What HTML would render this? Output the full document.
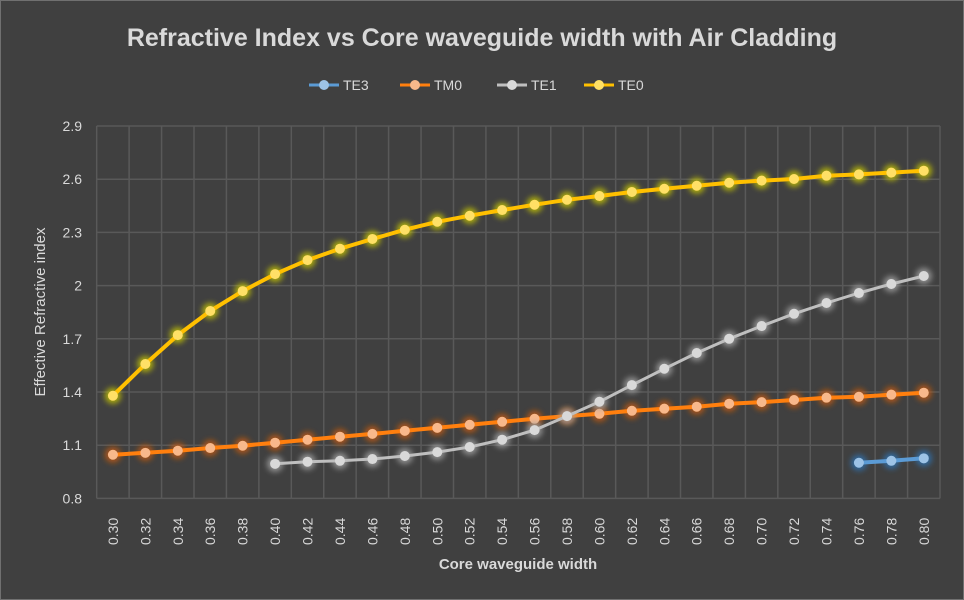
<!DOCTYPE html>
<html><head><meta charset="utf-8"><style>
html,body{margin:0;padding:0;background:#404040;}
svg{display:block;font-family:"Liberation Sans",Calibri,sans-serif;}
</style></head><body>
<svg id="chart" width="964" height="600">
<defs>
<filter id="glow" x="-50%" y="-50%" width="200%" height="200%"><feGaussianBlur stdDeviation="3"/></filter>
</defs>
<rect x="0.5" y="0.5" width="963" height="599" fill="#404040" stroke="#707070"/>
<text x="482" y="46" text-anchor="middle" font-size="25" font-weight="bold" fill="#d9d9d9">Refractive Index vs Core waveguide width with Air Cladding</text>
<g id="legend"></g>
<g id="grid"></g>
<g id="yticks"></g>
<g id="xticks"></g>
<g id="series"></g>
<text x="518" y="569" text-anchor="middle" font-size="15" font-weight="bold" fill="#d9d9d9">Core waveguide width</text>
<text transform="translate(45,312) rotate(-90)" text-anchor="middle" font-size="15" fill="#d9d9d9">Effective Refractive index</text>
</svg>
<script>
const categories=["0.30","0.32","0.34","0.36","0.38","0.40","0.42","0.44","0.46","0.48","0.50","0.52","0.54","0.56","0.58","0.60","0.62","0.64","0.66","0.68","0.70","0.72","0.74","0.76","0.78","0.80"];
const yTicks=[0.8,1.1,1.4,1.7,2,2.3,2.6,2.9];
const yTickLabels=["0.8","1.1","1.4","1.7","2","2.3","2.6","2.9"];
const te0=[1.379,1.558,1.721,1.857,1.969,2.065,2.144,2.208,2.263,2.315,2.36,2.394,2.426,2.456,2.484,2.505,2.528,2.546,2.563,2.58,2.592,2.601,2.62,2.627,2.637,2.648];
const tm0=[1.046,1.057,1.069,1.084,1.097,1.114,1.131,1.148,1.164,1.181,1.198,1.215,1.232,1.249,1.264,1.277,1.294,1.306,1.317,1.334,1.343,1.355,1.368,1.373,1.385,1.396];
const te1=[null,null,null,null,null,0.995,1.007,1.012,1.022,1.039,1.061,1.09,1.131,1.185,1.264,1.345,1.439,1.531,1.62,1.7,1.772,1.841,1.902,1.958,2.009,2.054];
const te3=[null,null,null,null,null,null,null,null,null,null,null,null,null,null,null,null,null,null,null,null,null,null,null,1.001,1.012,1.026];
const seriesNames=["TE3","TM0","TE1","TE0"];
const ns="http://www.w3.org/2000/svg";
const X0=96.7,X1=940,Y0=498.4,Y1=126,YMIN=0.8,YMAX=2.9;
const bw=(X1-X0)/categories.length;
function xs(i){return X0+bw*(i+0.5);}
function ys(v){return Y0-(v-YMIN)/(YMAX-YMIN)*(Y0-Y1);}
function mk(tag,attrs,parent){const e=document.createElementNS(ns,tag);for(const k in attrs)e.setAttribute(k,attrs[k]);parent.appendChild(e);return e;}
const grid=document.getElementById('grid');
yTicks.forEach((t,i)=>{const l=mk('line',{x1:X0,x2:X1,y1:ys(t),y2:ys(t),stroke:'#595959','stroke-width':1.5},grid);


const tx=mk('text',{x:82,y:ys(t)+5,'text-anchor':'end','font-size':14,fill:'#d9d9d9'},document.getElementById('yticks'));
tx.textContent=yTickLabels[i];

});
for(let i=0;i<=categories.length;i++){const x=X0+bw*i;const l=mk('line',{x1:x,x2:x,y1:Y1,y2:Y0,stroke:'#595959','stroke-width':1.5},grid);

}
categories.forEach((c,i)=>{const t=mk('text',{transform:`translate(${xs(i)+5},545) rotate(-90)`,'font-size':14,fill:'#d9d9d9'},document.getElementById('xticks'));
t.textContent=c;

});
const colors={TE3:['#5b9bd5','#9dc3e6'],TM0:['#ff7f0e','#f8b88b'],TE1:['#bfbfbf','#d9d9d9'],TE0:['#ffc000','#ffe066']};
const glow={TE3:'#2e75b6',TM0:'#c55a11',TE1:'#a6a6a6',TE0:'#c9c900'};
const data={TE3:te3,TM0:tm0,TE1:te1,TE0:te0};
const sg=document.getElementById('series');
["TM0","TE1","TE3","TE0"].forEach(n=>{const g=mk('g',{},sg);


const pts=[];data[n].forEach((v,i)=>{if(v!=null)pts.push([xs(i),ys(v)]);});
const d=pts.map((p,i)=>(i?'L':'M')+p[0].toFixed(1)+','+p[1].toFixed(1)).join('');
pts.forEach(p=>mk('circle',{cx:p[0],cy:p[1],r:8,fill:glow[n],opacity:0.8,filter:'url(#glow)'},g));
const ln=mk('path',{d:d,fill:'none',stroke:colors[n][0],'stroke-width':n==='TE1'?3:4,'stroke-linejoin':'round'},g);


pts.forEach(p=>{const c=mk('circle',{cx:p[0],cy:p[1],r:5,fill:colors[n][1]},g);

});});
const lg=document.getElementById('legend');
const lx=[309,400,497,584];
seriesNames.forEach((n,i)=>{const g=mk('g',{},lg);


mk('line',{x1:lx[i],x2:lx[i]+30,y1:85,y2:85,stroke:colors[n][0],'stroke-width':3},g);
mk('circle',{cx:lx[i]+15,cy:85,r:5,fill:colors[n][1]},g);
const t=mk('text',{x:lx[i]+34,y:90,'font-size':14,fill:'#d9d9d9'},g);t.textContent=n;});
</script>
</body></html>
